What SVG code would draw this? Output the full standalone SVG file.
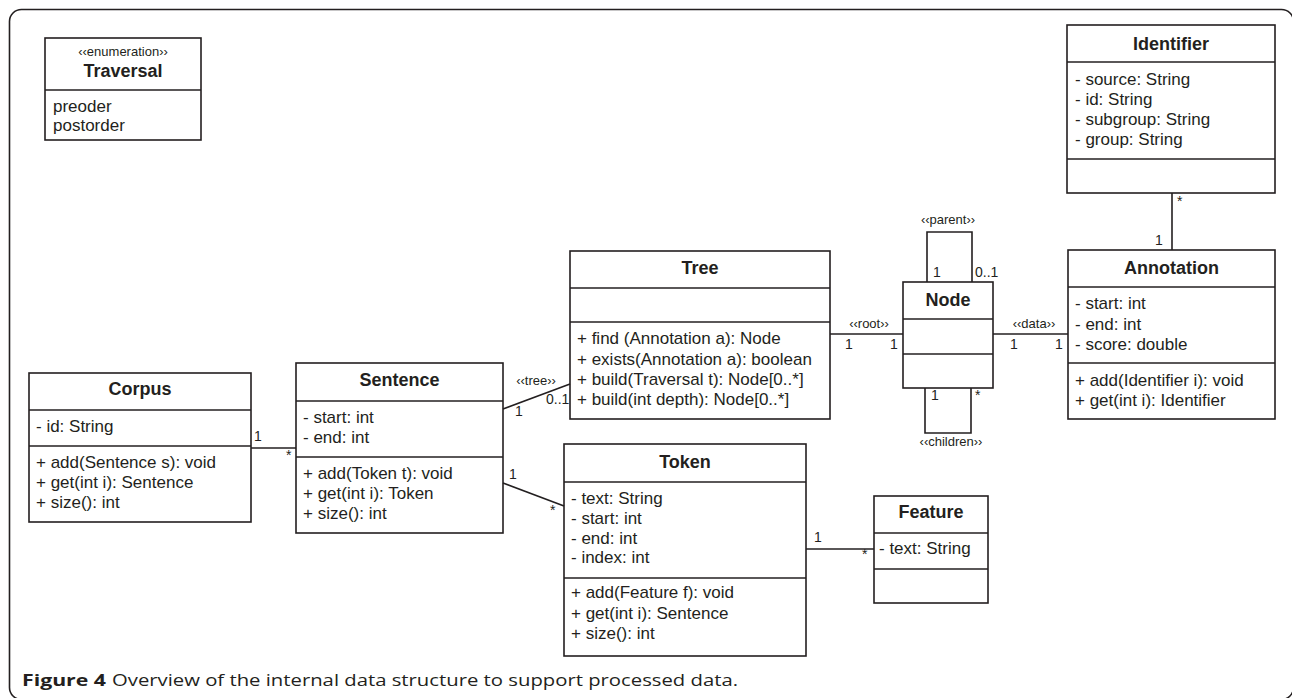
<svg xmlns="http://www.w3.org/2000/svg" width="1292" height="698" viewBox="0 0 1292 698">
<style>
.box{fill:#fff;stroke:#231f20;stroke-width:1.6}
.sep{stroke:#231f20;stroke-width:1.6}
.conn{fill:none;stroke:#231f20;stroke-width:1.6}
.t{font-family:"Liberation Sans",Arial,sans-serif;font-size:17px;fill:#231f20}
.title{font-weight:bold;font-size:18px;text-anchor:middle}
.st{font-size:13px}
.m{font-size:14px}
.c{text-anchor:middle}
.cap{font-family:"Open Sans","Noto Sans",sans-serif;font-size:16.5px;fill:#231f20}
</style>
<rect x="9.5" y="9.5" width="1284" height="690" rx="12" fill="none" stroke="#231f20" stroke-width="1.6"/>

<g id="traversal">
<rect class="box" x="45" y="38" width="156" height="102"/>
<line class="sep" x1="45" y1="90" x2="201" y2="90"/>
<text class="t st c" x="123" y="56" font-size="12.5">‹‹enumeration››</text>
<text class="t title" x="123" y="77">Traversal</text>
<text class="t" x="53" y="112">preoder</text>
<text class="t" x="53" y="131">postorder</text>
</g>

<g id="identifier">
<rect class="box" x="1067" y="25" width="208" height="168"/>
<line class="sep" x1="1067" y1="62" x2="1275" y2="62"/>
<line class="sep" x1="1067" y1="159" x2="1275" y2="159"/>
<text class="t title" x="1171" y="50">Identifier</text>
<text class="t" x="1075" y="85">- source: String</text>
<text class="t" x="1075" y="105">- id: String</text>
<text class="t" x="1075" y="125">- subgroup: String</text>
<text class="t" x="1075" y="145">- group: String</text>
</g>

<g id="annotation">
<rect class="box" x="1068" y="250" width="207" height="169"/>
<line class="sep" x1="1068" y1="287" x2="1275" y2="287"/>
<line class="sep" x1="1068" y1="363" x2="1275" y2="363"/>
<text class="t title" x="1171.5" y="274">Annotation</text>
<text class="t" x="1075" y="309">- start: int</text>
<text class="t" x="1075" y="330">- end: int</text>
<text class="t" x="1075" y="350">- score: double</text>
<text class="t" x="1075" y="386">+ add(Identifier i): void</text>
<text class="t" x="1075" y="406">+ get(int i): Identifier</text>
</g>

<g id="node">
<rect class="box" x="903" y="282" width="90" height="106"/>
<line class="sep" x1="903" y1="319" x2="993" y2="319"/>
<line class="sep" x1="903" y1="354" x2="993" y2="354"/>
<text class="t title" x="948" y="306">Node</text>
</g>

<g id="tree">
<rect class="box" x="570" y="251" width="260" height="168"/>
<line class="sep" x1="570" y1="288" x2="830" y2="288"/>
<line class="sep" x1="570" y1="322" x2="830" y2="322"/>
<text class="t title" x="700" y="274">Tree</text>
<text class="t" x="577" y="344">+ find (Annotation a): Node</text>
<text class="t" x="577" y="365">+ exists(Annotation a): boolean</text>
<text class="t" x="577" y="385">+ build(Traversal t): Node[0..*]</text>
<text class="t" x="577" y="405">+ build(int depth): Node[0..*]</text>
</g>

<g id="corpus">
<rect class="box" x="29" y="373" width="222" height="149"/>
<line class="sep" x1="29" y1="410" x2="251" y2="410"/>
<line class="sep" x1="29" y1="446" x2="251" y2="446"/>
<text class="t title" x="140" y="395">Corpus</text>
<text class="t" x="36" y="432">- id: String</text>
<text class="t" x="36" y="468">+ add(Sentence s): void</text>
<text class="t" x="36" y="488">+ get(int i): Sentence</text>
<text class="t" x="36" y="508">+ size(): int</text>
</g>

<g id="sentence">
<rect class="box" x="296" y="363" width="207" height="170"/>
<line class="sep" x1="296" y1="401" x2="503" y2="401"/>
<line class="sep" x1="296" y1="457" x2="503" y2="457"/>
<text class="t title" x="399.5" y="386">Sentence</text>
<text class="t" x="303" y="423">- start: int</text>
<text class="t" x="303" y="443">- end: int</text>
<text class="t" x="303" y="479">+ add(Token t): void</text>
<text class="t" x="303" y="499">+ get(int i): Token</text>
<text class="t" x="303" y="519">+ size(): int</text>
</g>

<g id="token">
<rect class="box" x="564" y="444" width="242" height="212"/>
<line class="sep" x1="564" y1="482" x2="806" y2="482"/>
<line class="sep" x1="564" y1="578" x2="806" y2="578"/>
<text class="t title" x="685" y="468">Token</text>
<text class="t" x="571" y="504">- text: String</text>
<text class="t" x="571" y="524">- start: int</text>
<text class="t" x="571" y="544">- end: int</text>
<text class="t" x="571" y="563">- index: int</text>
<text class="t" x="571" y="598">+ add(Feature f): void</text>
<text class="t" x="571" y="619">+ get(int i): Sentence</text>
<text class="t" x="571" y="639">+ size(): int</text>
</g>

<g id="feature">
<rect class="box" x="874" y="496" width="114" height="107"/>
<line class="sep" x1="874" y1="533" x2="988" y2="533"/>
<line class="sep" x1="874" y1="569" x2="988" y2="569"/>
<text class="t title" x="931" y="518">Feature</text>
<text class="t" x="879" y="554">- text: String</text>
</g>

<g id="connectors">
<line class="conn" x1="1172" y1="193" x2="1172" y2="250"/>
<text class="t m" x="1177" y="206">*</text>
<text class="t m" x="1155" y="245">1</text>

<line class="conn" x1="830" y1="334" x2="903" y2="334"/>
<text class="t st c" x="869" y="328">‹‹root››</text>
<text class="t m" x="845" y="349">1</text>
<text class="t m" x="890" y="349">1</text>

<line class="conn" x1="993" y1="334" x2="1068" y2="334"/>
<text class="t st c" x="1034" y="328">‹‹data››</text>
<text class="t m" x="1010" y="349">1</text>
<text class="t m" x="1055" y="349">1</text>

<path class="conn" d="M927,282 V232 H972 V282"/>
<text class="t st c" x="948" y="224">‹‹parent››</text>
<text class="t m" x="933" y="277">1</text>
<text class="t m" x="975" y="277">0..1</text>

<path class="conn" d="M925,388 V433 H971 V388"/>
<text class="t st c" x="951" y="446">‹‹children››</text>
<text class="t m" x="931" y="400">1</text>
<text class="t m" x="975" y="400">*</text>

<line class="conn" x1="503" y1="409" x2="570" y2="384"/>
<text class="t st c" x="536" y="385">‹‹tree››</text>
<text class="t m" x="546" y="404">0..1</text>
<text class="t m" x="515" y="416">1</text>

<line class="conn" x1="251" y1="448" x2="296" y2="448"/>
<text class="t m" x="254" y="441">1</text>
<text class="t m" x="286" y="460">*</text>

<line class="conn" x1="503" y1="483" x2="564" y2="506"/>
<text class="t m" x="509" y="479">1</text>
<text class="t m" x="550" y="515">*</text>

<line class="conn" x1="806" y1="549" x2="874" y2="549"/>
<text class="t m" x="814" y="542">1</text>
<text class="t m" x="862" y="559">*</text>
</g>

<text class="cap" x="22" y="686" font-weight="bold" textLength="84" lengthAdjust="spacingAndGlyphs">Figure 4</text>
<text class="cap" x="112" y="686" textLength="626" lengthAdjust="spacingAndGlyphs">Overview of the internal data structure to support processed data.</text>
</svg>
